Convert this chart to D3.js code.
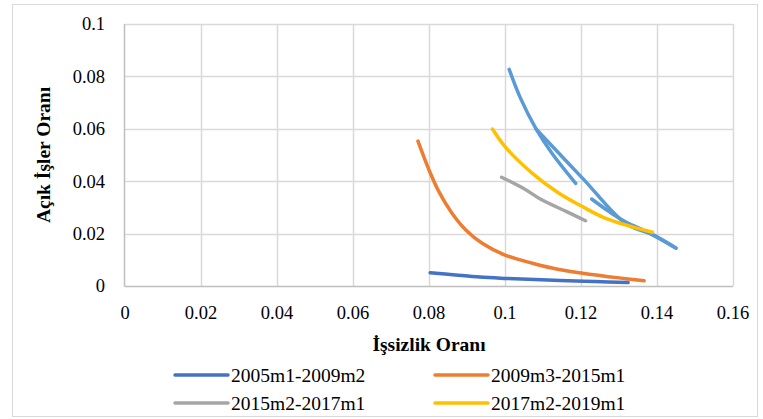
<!DOCTYPE html>
<html><head><meta charset="utf-8">
<script src="https://cdn.jsdelivr.net/npm/d3@7"></script>
<style>
html,body{margin:0;padding:0;background:#fff;}
svg text{font-family:"Liberation Serif","Times New Roman",serif;fill:#000;}
</style></head>
<body><svg id="c" width="763" height="419"></svg>
<script>
// ---- data (x = unemployment rate, y = job vacancy rate) ----
const xTicks = [0, 0.02, 0.04, 0.06, 0.08, 0.1, 0.12, 0.14, 0.16];
const yTicks = [0, 0.02, 0.04, 0.06, 0.08, 0.1];
const xTitle = "İşsizlik Oranı";
const yTitle = "Açık İşler Oranı";
const seriesNames = ["2005m1-2009m2", "2009m3-2015m1", "2015m2-2017m1", "2017m2-2019m1"];
const seriesColors = ["#4472C4", "#ED7D31", "#A5A5A5", "#FFC000", "#5B9BD5"];

const s2005 = [[0.0803,0.0051],[0.0870,0.0042],[0.0934,0.0034],[0.1003,0.0029],[0.1145,0.0021],[0.1236,0.0017],[0.1324,0.0013]];
const s2009 = [[0.0771,0.0553],[0.0800,0.0443],[0.0826,0.0360],[0.0861,0.0277],[0.0897,0.0214],[0.0940,0.0163],[0.1000,0.0118],[0.1072,0.0087],[0.1142,0.0063],[0.1200,0.0050],[0.1300,0.0031],[0.1366,0.0020]];
const s2015 = [[0.0991,0.0415],[0.1048,0.0373],[0.1098,0.0328],[0.1162,0.0284],[0.1212,0.0249]];
const s2017 = [[0.0967,0.0599],[0.1000,0.0532],[0.1072,0.0430],[0.1142,0.0354],[0.1200,0.0306],[0.1265,0.0258],[0.1388,0.0205]];
// fifth series (light blue, not listed in legend), drawn as three pieces
const s2019a = [[0.1011,0.0827],[0.1041,0.0716],[0.1081,0.0602],[0.1124,0.0506],[0.1186,0.0392]];
const s2019b = [[0.1081,0.0600],[0.1205,0.0410],[0.1317,0.0239],[0.1388,0.0195],[0.1450,0.0144]];
const s2019c = [[0.1228,0.0332],[0.1274,0.0284],[0.1317,0.0245],[0.1388,0.0197],[0.1450,0.0145]];

const svg = d3.select("#c");
// outer chart border
svg.append("rect").attr("x",12.5).attr("y",4.5).attr("width",745).attr("height",412)
  .attr("fill","#fff").attr("stroke","#d9d9d9").attr("stroke-width",1);

const L = 125, R = 733, T = 24, B = 286;
const x = d3.scaleLinear().domain([0,0.16]).range([L,R]);
const y = d3.scaleLinear().domain([0,0.1]).range([B,T]);

// gridlines
const g = svg.append("g");
g.selectAll(".vg").data(xTicks.slice(1)).join("line")
  .attr("x1",d=>Math.round(x(d))+0.5).attr("x2",d=>Math.round(x(d))+0.5)
  .attr("y1",T).attr("y2",B).attr("stroke","#d9d9d9").attr("stroke-width",1.5);
g.selectAll(".hg").data(yTicks.slice(1)).join("line")
  .attr("y1",d=>Math.round(y(d))+0.5).attr("y2",d=>Math.round(y(d))+0.5)
  .attr("x1",L).attr("x2",R).attr("stroke","#d9d9d9").attr("stroke-width",1.5);

// axes lines
svg.append("line").attr("x1",L-0.5).attr("x2",L-0.5).attr("y1",T).attr("y2",B+0.5)
  .attr("stroke","#bfbfbf").attr("stroke-width",1.5);
svg.append("line").attr("x1",L-0.5).attr("x2",R).attr("y1",B+0.5).attr("y2",B+0.5)
  .attr("stroke","#bfbfbf").attr("stroke-width",1.5);

// tick labels
const fmt = d => String(d);
svg.selectAll(".yl").data(yTicks).join("text")
  .attr("x",105).attr("y",d=>y(d)).attr("dy","0.35em").attr("text-anchor","end")
  .attr("font-size","18.5px").text(fmt);
svg.selectAll(".xl").data(xTicks).join("text")
  .attr("x",d=>x(d)).attr("y",313).attr("dy","0.35em").attr("text-anchor","middle")
  .attr("font-size","18.5px").text(fmt);

// axis titles
svg.append("text").attr("x",x(0.08)).attr("y",344).attr("dy","0.35em").attr("text-anchor","middle")
  .attr("font-size","19.5px").attr("font-weight","bold").text(xTitle);
svg.append("text").attr("transform","translate(43,"+((T+B)/2)+") rotate(-90)")
  .attr("dy","0.35em").attr("text-anchor","middle")
  .attr("font-size","19.5px").attr("font-weight","bold").text(yTitle);

// series
const line = d3.line().x(d=>x(d[0])).y(d=>y(d[1])).curve(d3.curveCatmullRom.alpha(0.5));
const drawn = [
  [s2019a,4],[s2019b,4],[s2019c,4],
  [s2015,2],[s2017,3],[s2009,1],[s2005,0]
];
const lg = svg.append("g").attr("clip-path",null);
drawn.forEach(([data,ci]) => {
  lg.append("path").attr("d",line(data)).attr("fill","none")
    .attr("stroke",seriesColors[ci]).attr("stroke-width",3.5)
    .attr("stroke-linecap","round").attr("stroke-linejoin","round");
});

// legend
const legPos = [[175,375],[435,375],[175,403],[435,403]];
seriesNames.forEach((name,i) => {
  const [lx,ly] = legPos[i];
  svg.append("line").attr("x1",lx).attr("x2",lx+53).attr("y1",ly).attr("y2",ly)
    .attr("stroke",seriesColors[i]).attr("stroke-width",3.5).attr("stroke-linecap","round");
  svg.append("text").attr("x",lx+56).attr("y",ly).attr("dy","0.35em")
    .attr("font-size","19.5px").text(name);
});
</script></body></html>
